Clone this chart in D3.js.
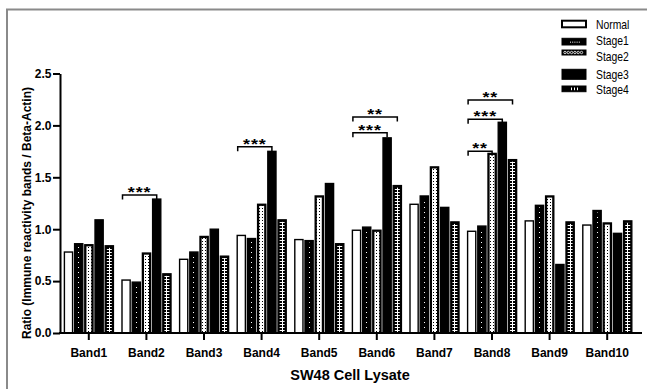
<!DOCTYPE html>
<html><head><meta charset="utf-8">
<script src="https://cdn.jsdelivr.net/npm/d3@7"></script>
<style>body{margin:0;background:#fff}svg{display:block}</style>
</head><body><svg id="c" width="647" height="389"></svg>
<script>
// ---- data ----
const bands = ["Band1","Band2","Band3","Band4","Band5","Band6","Band7","Band8","Band9","Band10"];
const stages = ["Normal","Stage1","Stage2","Stage3","Stage4"];
const normal = [0.78,0.51,0.71,0.94,0.90,0.99,1.24,0.98,1.08,1.04];
const stage1 = [0.86,0.49,0.78,0.91,0.89,1.02,1.32,1.03,1.23,1.18];
const stage2 = [0.85,0.77,0.93,1.24,1.32,0.99,1.60,1.73,1.32,1.06];
const stage3 = [1.09,1.29,1.00,1.75,1.44,1.88,1.21,2.03,0.66,0.96];
const stage4 = [0.84,0.57,0.74,1.09,0.86,1.42,1.07,1.67,1.07,1.08];
const yTicks = [0,0.5,1.0,1.5,2.0,2.5];
const bracketBands  = ["Band2","Band4","Band6","Band6","Band8","Band8","Band8"];
const bracketTo     = ["Stage3","Stage3","Stage3","Stage4","Stage2","Stage3","Stage4"];
const bracketLevel  = [1.33,1.795,1.93,2.08,1.75,2.06,2.245];
const bracketLabel  = ["***","***","***","**","**","***","**"];
const yTitle = "Ratio (Immune reactivity bands / Beta-Actin)";
const xTitle = "SW48 Cell Lysate";

const series = [normal, stage1, stage2, stage3, stage4];
const rows = [];
bands.forEach((b,i)=>stages.forEach((s,j)=>rows.push({band:b, stage:s, value:series[j][i]})));

// ---- layout ----
const svg = d3.select("#c");
const x = d3.scaleBand().domain(bands).range([60,636]).paddingInner(0).paddingOuter(0);
const sub = d3.scaleBand().domain(stages).range([4.4, 53.4]).paddingInner(0.2);
const y = d3.scaleLinear().domain([0,2.5]).range([333,73.5]);
const bw = sub.bandwidth();

const defs = svg.append("defs");
defs.append("pattern").attr("id","dots").attr("patternUnits","userSpaceOnUse")
  .attr("width",1).attr("height",5)
  .append("rect").attr("width",1).attr("height",1).attr("y",2).attr("fill","#fff");
const ring = defs.append("pattern").attr("id","ring").attr("patternUnits","userSpaceOnUse")
  .attr("width",3).attr("height",3);
ring.append("rect").attr("width",3).attr("height",3).attr("fill","#fff");
ring.append("rect").attr("x",1).attr("y",1).attr("width",1).attr("height",1).attr("fill","#000");
defs.append("pattern").attr("id","hl").attr("patternUnits","userSpaceOnUse")
  .attr("width",1).attr("height",3)
  .append("rect").attr("width",1).attr("height",1).attr("fill","#fff");

// frame
svg.append("line").attr("x1",6).attr("x2",647).attr("y1",9.5).attr("y2",9.5)
  .attr("stroke","#8a8a8a").attr("stroke-width",2);
svg.append("line").attr("x1",7).attr("x2",7).attr("y1",9).attr("y2",389)
  .attr("stroke","#8a8a8a").attr("stroke-width",2);

// bars
const g = svg.append("g");
const bars = g.selectAll("g.bar").data(rows).join("g").attr("class","bar");
bars.append("rect")
  .attr("x",d=>x(d.band)+sub(d.stage))
  .attr("y",d=>y(d.value))
  .attr("width",bw)
  .attr("height",d=>y(0)-y(d.value))
  .attr("fill",d=>d.stage==="Normal"?"#fff":"#000")
  .attr("stroke","#000").attr("stroke-width",1.4);
bars.filter(d=>d.stage==="Stage1").append("rect")
  .attr("x",d=>Math.floor(x(d.band)+sub(d.stage)+bw/2))
  .attr("y",d=>y(d.value)+2).attr("width",1)
  .attr("height",d=>Math.max(0,y(0)-y(d.value)-3))
  .attr("fill","url(#dots)");
bars.filter(d=>d.stage==="Stage2").append("rect")
  .attr("x",d=>x(d.band)+sub(d.stage)+1.6)
  .attr("y",d=>y(d.value)+1.6).attr("width",bw-3.2)
  .attr("height",d=>Math.max(0,y(0)-y(d.value)-2.6))
  .attr("fill","url(#ring)");
bars.filter(d=>d.stage==="Stage4").append("rect")
  .attr("x",d=>x(d.band)+sub(d.stage)+1.6)
  .attr("y",d=>y(d.value)+2).attr("width",bw-3.2)
  .attr("height",d=>Math.max(0,y(0)-y(d.value)-3))
  .attr("fill","url(#hl)");
bars.filter(d=>d.stage==="Stage4").append("rect")
  .attr("x",d=>Math.floor(x(d.band)+sub(d.stage)+bw/2))
  .attr("y",d=>y(d.value)+2).attr("width",1)
  .attr("height",d=>Math.max(0,y(0)-y(d.value)-3))
  .attr("fill","#fff");

// axes
const fontB = "'Liberation Sans', Arial, sans-serif";
const ya = svg.append("g").attr("transform","translate(60,0)")
  .call(d3.axisLeft(y).tickValues(yTicks).tickFormat(d3.format(".1f")).tickSize(7).tickSizeOuter(0).tickPadding(1.5));
ya.select(".domain").attr("stroke","#000").attr("stroke-width",2);
ya.selectAll(".tick line").attr("stroke","#000").attr("stroke-width",2);
ya.selectAll("text").attr("font-family",fontB).attr("font-weight","bold").attr("font-size","12px").attr("fill","#000");

const xa = svg.append("g").attr("transform",`translate(0,${y(0)})`)
  .call(d3.axisBottom(x).tickSize(7).tickSizeOuter(0).tickPadding(8));
xa.select(".domain").remove();
xa.selectAll(".tick line").attr("stroke","#000").attr("stroke-width",2);
xa.selectAll("text").attr("font-family",fontB).attr("font-weight","bold").attr("font-size","12px").attr("fill","#000");
svg.append("line").attr("x1",59).attr("x2",642).attr("y1",y(0)).attr("y2",y(0))
  .attr("stroke","#000").attr("stroke-width",2);

// titles
svg.append("text").attr("transform","translate(31,213) rotate(-90)")
  .attr("text-anchor","middle").attr("font-family",fontB).attr("font-weight","bold")
  .attr("font-size","12px").text(yTitle);
svg.append("text").attr("x",350).attr("y",380).attr("text-anchor","middle")
  .attr("font-family",fontB).attr("font-weight","bold").attr("font-size","14.5px").text(xTitle);

// significance brackets
const br = bracketBands.map((b,i)=>({band:b,to:bracketTo[i],level:bracketLevel[i],label:bracketLabel[i]}));
const bg = svg.append("g");
br.forEach(d=>{
  const x1 = x(d.band)+sub("Normal")+0.5;
  const x2 = x(d.band)+sub(d.to)+bw/2;
  const yy = y(d.level);
  bg.append("path").attr("d",`M${x1},${yy+4.5}V${yy}H${x2}V${yy+4.5}`)
    .attr("fill","none").attr("stroke","#000").attr("stroke-width",1.5);
  bg.append("text").attr("transform",`translate(${(x1+x2)/2},${yy+2}) scale(1.12,0.86)`)
    .attr("text-anchor","middle")
    .attr("font-family",fontB).attr("font-weight","bold").attr("font-size","16px")
    .attr("letter-spacing","0.8px").text(d.label);
});

// legend
const legY = [20.7,38.3,50,69.3,86];
const legH = [6.6,6.7,5,10,5.7];
const legT = [25,41,56.5,74.5,89.5];
const lg = svg.append("g");
stages.forEach((s,i)=>{
  lg.append("rect").attr("x",562).attr("y",legY[i]).attr("width",24).attr("height",legH[i])
    .attr("fill",s==="Normal"?"#fff":"#000").attr("stroke","#000").attr("stroke-width",s==="Normal"?2:1);
  if(s==="Stage1"){
    for(let k=0;k<5;k++) lg.append("rect").attr("x",570+k*2.2).attr("y",legY[i]+legH[i]/2).attr("width",1).attr("height",1).attr("fill","#fff");
  }
  if(s==="Stage2"){
    for(let k=0;k<6;k++) lg.append("circle").attr("cx",565+k*3.3).attr("cy",legY[i]+legH[i]/2).attr("r",1.2).attr("fill","none").attr("stroke","#fff").attr("stroke-width",0.8);
  }
  if(s==="Stage4"){
    for(let k=0;k<3;k++) lg.append("rect").attr("x",571+k*3).attr("y",legY[i]+1.5).attr("width",1).attr("height",legH[i]-3).attr("fill","#fff");
  }
  lg.append("text").attr("transform",`translate(596,${legT[i]}) scale(0.83,1)`).attr("dy","0.35em")
    .attr("font-family","'Liberation Sans',Arial,sans-serif")
    .attr("font-size","12.5px").text(s);
});
</script></body></html>
